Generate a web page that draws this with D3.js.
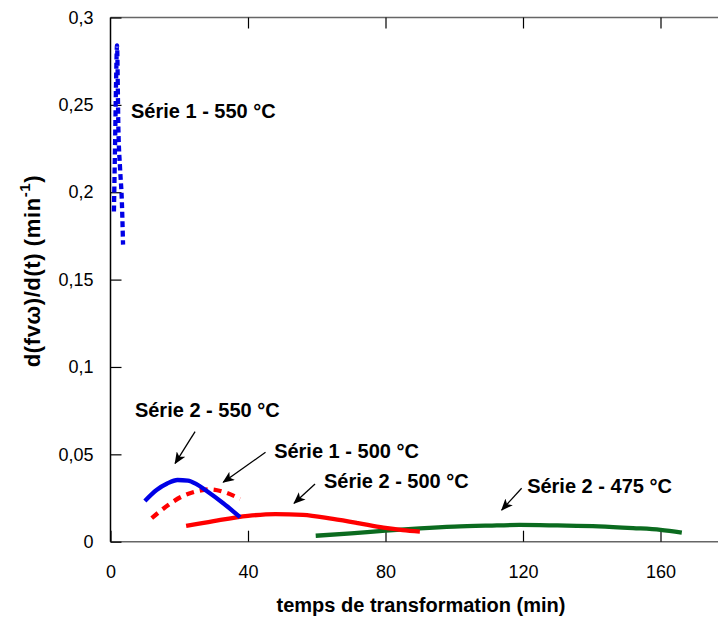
<!DOCTYPE html>
<html>
<head>
<meta charset="utf-8">
<script src="https://cdn.jsdelivr.net/npm/d3@7"></script>
<style>
  body { margin: 0; background: #fff; }
  svg { display: block; font-family: "Liberation Sans", Arial, sans-serif; }
</style>
</head>
<body>
<svg id="chart" width="718" height="619"></svg>
<script>
// ---- Data ----
const xTicks = [0, 40, 80, 120, 160];
const yTicks = [0, 0.05, 0.1, 0.15, 0.2, 0.25, 0.3];
const yTickLabels = ["0", "0,05", "0,1", "0,15", "0,2", "0,25", "0,3"];

const s1_550_t = [1.0, 1.3, 1.6, 1.9, 2.3, 2.8, 3.3, 3.65];
const s1_550_v = [0.189, 0.224, 0.261, 0.284, 0.236, 0.213, 0.195, 0.170];

const s2_550_t = [10, 13.4, 16.5, 19.5, 22.5, 25, 28, 32.8, 37.7];
const s2_550_v = [0.0233, 0.0296, 0.0333, 0.0353, 0.0350, 0.0330, 0.0290, 0.0220, 0.0140];

const s1_500_t = [12, 16.8, 20.7, 24.6, 28.9, 32.8, 37.7];
const s1_500_v = [0.0135, 0.0210, 0.0258, 0.0286, 0.0300, 0.0286, 0.0245];

const s2_500_t = [22, 30, 40, 48, 56, 64.7, 72, 79.4, 85, 90];
const s2_500_v = [0.0090, 0.0118, 0.0148, 0.0158, 0.0154, 0.0130, 0.0106, 0.0080, 0.0066, 0.0058];

const s2_475_t = [59.7, 70, 80, 90, 100, 110, 119, 130, 142, 152, 160, 166.2];
const s2_475_v = [0.0034, 0.0048, 0.0063, 0.0076, 0.0086, 0.0092, 0.0096, 0.0093, 0.0088, 0.0078, 0.0068, 0.0052];

const seriesNames = ["Série 1 - 550 °C", "Série 2 - 550 °C", "Série 1 - 500 °C", "Série 2 - 500 °C", "Série 2 - 475 °C"];
// label anchor (t, v) and arrow (from t,v -> to t,v)
const labelT = [5.96, 7.1, 47.6, 62.1, 121.2];
const labelV = [0.2425, 0.0714, 0.0479, 0.0307, 0.0279];
const arrowFromT = [null, 24.6, 45.1, 59.5, 119.6];
const arrowFromV = [null, 0.063, 0.0512, 0.0330, 0.0306];
const arrowToT = [null, 18.8, 32.8, 53.4, 113.8];
const arrowToV = [null, 0.0448, 0.0340, 0.0220, 0.0181];

const xTitle = "temps de transformation (min)";

// ---- Layout ----
const svg = d3.select("#chart");
const X0 = 110.5, X160 = 660.5, YTOP = 17.5, YBOT = 541.7, XEND = 718;
const x = d3.scaleLinear().domain([0, 160]).range([X0, X160]);
const y = d3.scaleLinear().domain([0, 0.3]).range([YBOT, YTOP]);

// arrow marker
svg.append("defs").append("marker")
  .attr("id", "arr").attr("markerUnits", "userSpaceOnUse")
  .attr("viewBox", "0 0 12 10").attr("refX", 11).attr("refY", 5)
  .attr("markerWidth", 12).attr("markerHeight", 10).attr("orient", "auto")
  .append("path").attr("d", "M0,0 L12,5 L0,10 L3,5 Z").attr("fill", "#000");

// axes lines
svg.append("line").attr("x1", X0).attr("x2", XEND).attr("y1", YBOT).attr("y2", YBOT)
  .attr("stroke", "#666").attr("stroke-width", 1.5);
svg.append("line").attr("x1", X0).attr("x2", XEND).attr("y1", YTOP).attr("y2", YTOP)
  .attr("stroke", "#666").attr("stroke-width", 1.5);
svg.append("line").attr("x1", X0).attr("x2", X0).attr("y1", YTOP).attr("y2", YBOT)
  .attr("stroke", "#000").attr("stroke-width", 1.5);

// bottom axis
const gx = svg.append("g").attr("transform", `translate(0,${YBOT})`)
  .call(d3.axisBottom(x).tickValues(xTicks).tickSizeInner(-11).tickSizeOuter(0).tickPadding(24).tickFormat(d3.format("d")));
gx.select(".domain").remove();
gx.selectAll("line").attr("stroke", "#000").attr("stroke-width", 1.2);
gx.selectAll("text").attr("font-size", 18).attr("fill", "#000")
  .attr("font-family", "Liberation Sans, Arial, sans-serif");

// top axis ticks
const gt = svg.append("g").attr("transform", `translate(0,${YTOP})`)
  .call(d3.axisTop(x).tickValues(xTicks.slice(1)).tickSizeInner(-11).tickSizeOuter(0).tickFormat(""));
gt.select(".domain").remove();
gt.selectAll("line").attr("stroke", "#000").attr("stroke-width", 1.2);

// left axis
const gy = svg.append("g").attr("transform", `translate(${X0},0)`)
  .call(d3.axisLeft(y).tickValues(yTicks).tickSizeInner(-11).tickSizeOuter(0).tickPadding(17)
    .tickFormat((d, i) => yTickLabels[i]));
gy.select(".domain").remove();
gy.selectAll("line").attr("stroke", "#000").attr("stroke-width", 1.2);
gy.selectAll("text").attr("font-size", 18).attr("fill", "#000")
  .attr("font-family", "Liberation Sans, Arial, sans-serif");

// axis titles
svg.append("text").attr("x", 421).attr("y", 612).attr("text-anchor", "middle")
  .attr("font-size", 20).attr("font-weight", "bold").text(xTitle);

const yt = svg.append("text").attr("transform", "translate(40,271) rotate(-90)")
  .attr("text-anchor", "middle").attr("font-size", 22).attr("font-weight", "bold")
  .attr("letter-spacing", 0.6);
yt.append("tspan").text("d(fvω)/d(t) (min");
yt.append("tspan").attr("font-size", 15).attr("dy", -10).text("-1");
yt.append("tspan").attr("dy", 10).text(")");

// lines
const line = d3.line().x(d => x(d[0])).y(d => y(d[1])).curve(d3.curveMonotoneX);
function zip(t, v) { return t.map((d, i) => [d, v[i]]); }

const series = [
  { t: s2_475_t, v: s2_475_v, color: "#0b6b1f", dash: null },
  { t: s2_500_t, v: s2_500_v, color: "#ff0000", dash: null },
  { t: s1_500_t, v: s1_500_v, color: "#ff0000", dash: "8,6" },
  { t: s2_550_t, v: s2_550_v, color: "#0000e6", dash: null },
  { t: s1_550_t, v: s1_550_v, color: "#0000e6", dash: "6,3.5" },
];
series.forEach(s => {
  svg.append("path").attr("d", line(zip(s.t, s.v)))
    .attr("fill", "none").attr("stroke", s.color).attr("stroke-width", 4.3)
    .attr("stroke-dasharray", s.dash);
});

// labels and arrows
seriesNames.forEach((name, i) => {
  svg.append("text").attr("x", x(labelT[i])).attr("y", y(labelV[i]))
    .attr("font-size", 20).attr("font-weight", "bold").attr("fill", "#000").text(name);
  if (arrowFromT[i] !== null) {
    svg.append("line")
      .attr("x1", x(arrowFromT[i])).attr("y1", y(arrowFromV[i]))
      .attr("x2", x(arrowToT[i])).attr("y2", y(arrowToV[i]))
      .attr("stroke", "#000").attr("stroke-width", 1.3).attr("marker-end", "url(#arr)");
  }
});
</script>
</body>
</html>
